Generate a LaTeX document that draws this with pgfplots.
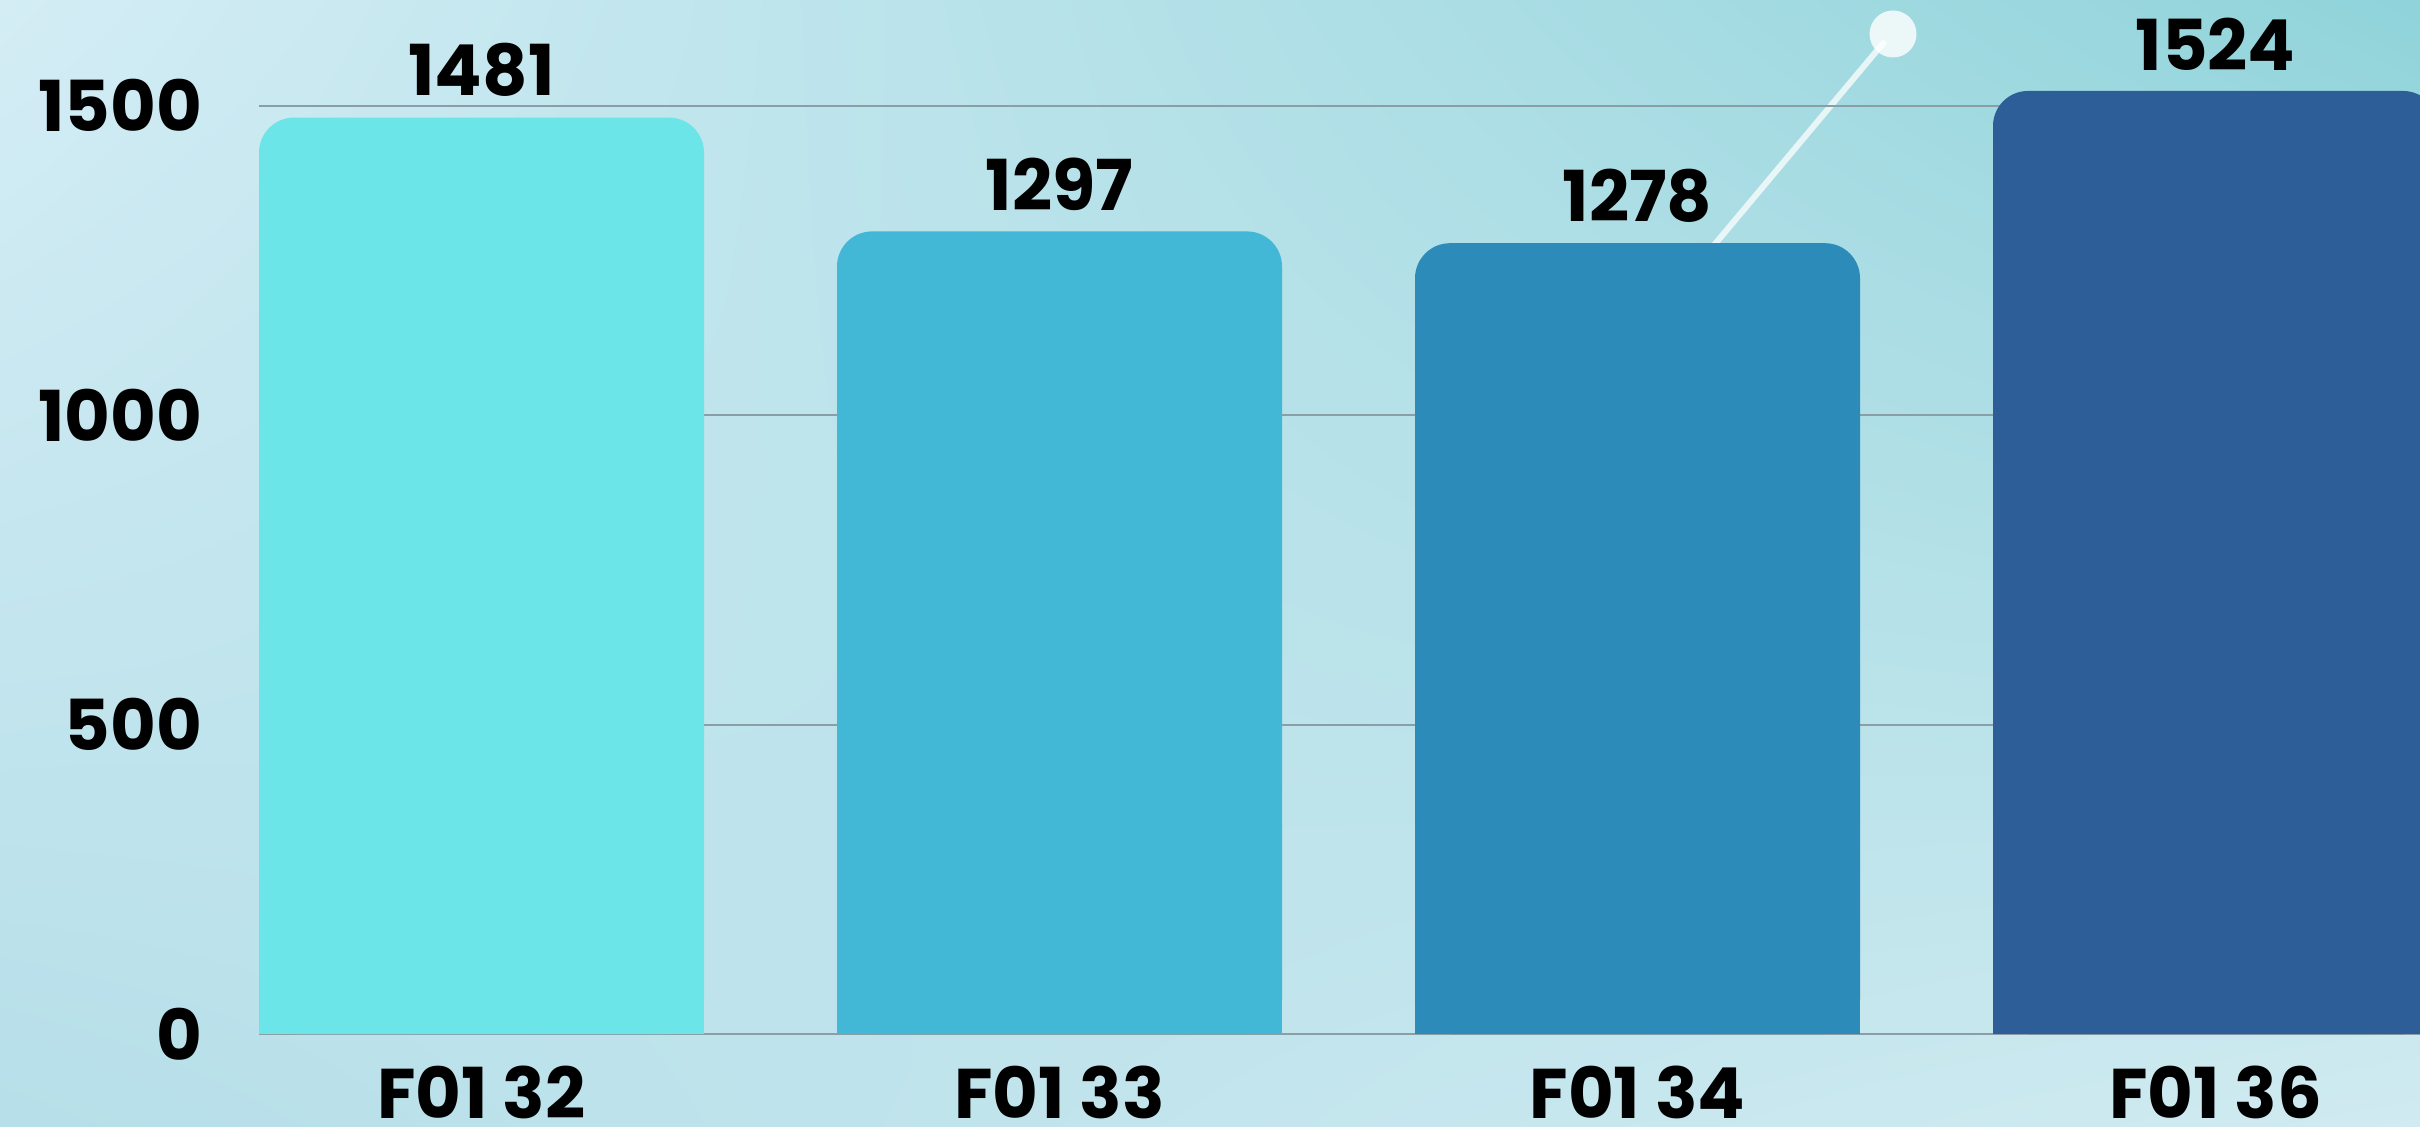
\documentclass[border=0pt]{standalone}
\usepackage{pgfplots}
\pgfplotsset{compat=1.18}
\usepackage{pgfplotstable}
\usetikzlibrary{shadings}
\usepackage{fontspec}
\setmainfont{Poppins}

\definecolor{bar0}{HTML}{6CE5E8}
\definecolor{bar1}{HTML}{42B7D6}
\definecolor{bar2}{HTML}{2D8BBA}
\definecolor{bar3}{HTML}{2E5E98}
\definecolor{gridc}{HTML}{8A9EA5}
\definecolor{bgTL}{HTML}{D4EDF5}
\definecolor{bgTR}{HTML}{90D3DA}
\definecolor{bgBL}{HTML}{B6DFE9}
\definecolor{bgBR}{HTML}{D0EBF1}

\pgfplotstableread{
x v
0 1481
1 1297
2 1278
3 1524
}\sales

\begin{document}
\begin{tikzpicture}
\useasboundingbox (0,0) rectangle (24.2,11.26);
\clip (0,0) rectangle (24.2,11.26);
\shade[upper left=bgTL, upper right=bgTR, lower left=bgBL, lower right=bgBR] (0,0) rectangle (24.2,11.26);
% background decoration
\draw[white, opacity=0.75, line width=0.06cm] (17.05,8.70) -- (18.85,10.85);
\fill[white, opacity=0.8] (18.93,10.92) circle (0.235);

\begin{axis}[
    at={(2.59cm,0.92cm)}, anchor=south west,
    scale only axis, width=21.79cm, height=10.34cm,
    xmin=-0.385, xmax=3.385, ymin=0, ymax=1671,
    clip=false,
    axis line style={draw=none},
    major tick length=0pt,
    ytick={0,500,1000,1500},
    ymajorgrids, grid style={gridc, line width=0.6pt},
    xtick={0,1,2,3},
    xticklabels={F01 32, F01 33, F01 34, F01 36},
    tick label style={font=\fontsize{20}{24}\selectfont\bfseries, text=black},
    /pgf/number format/assume math mode=true,
    /pgf/number format/1000 sep={},
    yticklabel style={anchor=east, inner sep=0pt, xshift=-0.56cm},
    xticklabel style={anchor=north, inner sep=0pt, yshift=-0.31cm},
    ybar, bar width=4.45cm,
    every node near coord/.append style={font=\fontsize{20}{24}\selectfont\bfseries,
        text=black, anchor=south, inner sep=0pt, yshift=0.2cm},
]
\pgfplotsinvokeforeach{0,1,2,3}{
  \addplot[draw=none, fill=bar#1, bar shift=0pt]
    table[x=x, y expr=\thisrow{v}-100, restrict x to domain=#1:#1] {\sales};
  \addplot[draw=none, fill=bar#1, bar shift=0pt, rounded corners=0.35cm, nodes near coords]
    table[x=x, y=v, restrict x to domain=#1:#1] {\sales};
}
\end{axis}
\end{tikzpicture}
\end{document}
